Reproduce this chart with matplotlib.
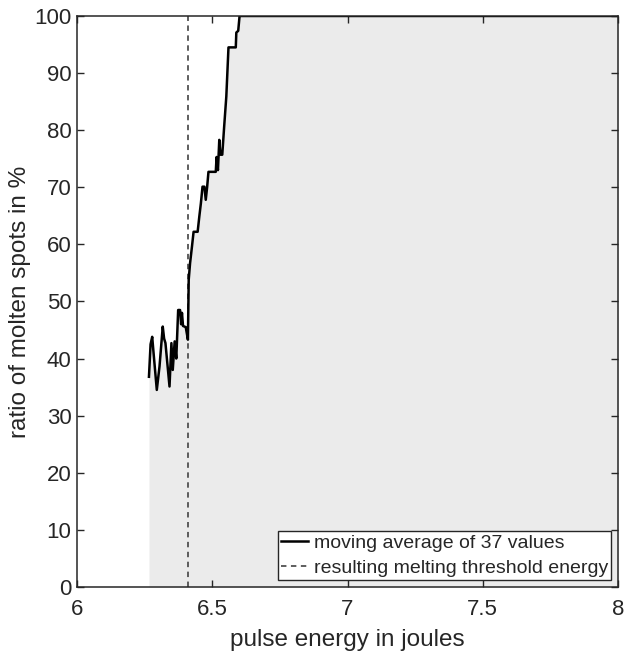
import matplotlib.pyplot as plt
import numpy as np

# --- data ---
energy = [6.266, 6.272, 6.278, 6.283, 6.295, 6.305, 6.317, 6.322, 6.327, 6.342,
          6.349, 6.354, 6.361, 6.367, 6.374, 6.381, 6.385, 6.388, 6.392, 6.402,
          6.410, 6.413, 6.418, 6.425, 6.431, 6.446, 6.452, 6.458, 6.464, 6.471,
          6.476, 6.481, 6.486, 6.513, 6.516, 6.521, 6.526, 6.530, 6.537, 6.544,
          6.552, 6.560, 6.587, 6.589, 6.596, 6.601, 8.0]
ratio = [36.8, 42.5, 43.8, 41.0, 34.5, 38.6, 45.6, 43.5, 42.7, 35.1,
         42.7, 38.0, 43.0, 40.0, 48.5, 48.5, 46.0, 48.0, 45.7, 45.5,
         43.3, 53.8, 56.7, 59.6, 62.2, 62.2, 64.8, 67.2, 70.1, 70.1,
         67.8, 70.0, 72.7, 72.7, 75.3, 73.0, 78.3, 75.7, 75.7, 80.6,
         85.9, 94.5, 94.5, 97.1, 97.4, 100.0, 100.0]
threshold = 6.412

text_col = '#262626'
plt.rcParams['font.family'] = ['Liberation Sans', 'DejaVu Sans']

fig = plt.figure(figsize=(6.25, 6.55), dpi=100)
ax = fig.add_axes([0.1232, 0.104, 0.8656, 0.8716])

ax.fill_between(energy, 0, ratio, color='#ebebeb', lw=0, zorder=1)
ax.plot(energy, ratio, color='black', lw=1.8, label='moving average of 37 values', zorder=3)
ax.plot([threshold, threshold], [0, 100], color='#505050', lw=1.3,
        linestyle=(0, (3, 2.5)), label='resulting melting threshold energy', zorder=2)

ax.set_xlim(6, 8)
ax.set_ylim(0, 100)
ax.set_xticks([6, 6.5, 7, 7.5, 8])
ax.set_xticklabels(['6', '6.5', '7', '7.5', '8'])
ax.set_yticks(np.arange(0, 101, 10))

ax.set_xlabel('pulse energy in joules', fontsize=17.5, color=text_col, labelpad=6)
ax.set_ylabel('ratio of molten spots in %', fontsize=17.5, color=text_col, labelpad=2)

for spine in ax.spines.values():
    spine.set_linewidth(1.1)
    spine.set_color(text_col)
    spine.set_zorder(5)

ax.tick_params(axis='both', direction='in', top=True, right=True, length=5,
               width=1.0, color=text_col, labelcolor=text_col, labelsize=16)
ax.tick_params(axis='x', pad=9)
ax.tick_params(axis='y', pad=4)

leg = ax.legend(loc='lower right', fontsize=14, frameon=True, fancybox=False,
                handlelength=1.4, handletextpad=0.3, borderpad=0.15,
                labelspacing=0.4, borderaxespad=0.36)
leg.get_frame().set_edgecolor(text_col)
leg.get_frame().set_linewidth(1.0)
leg.get_frame().set_facecolor('white')
leg.get_frame().set_alpha(1)
for t in leg.get_texts():
    t.set_color(text_col)

plt.savefig('out.png', dpi=100)
